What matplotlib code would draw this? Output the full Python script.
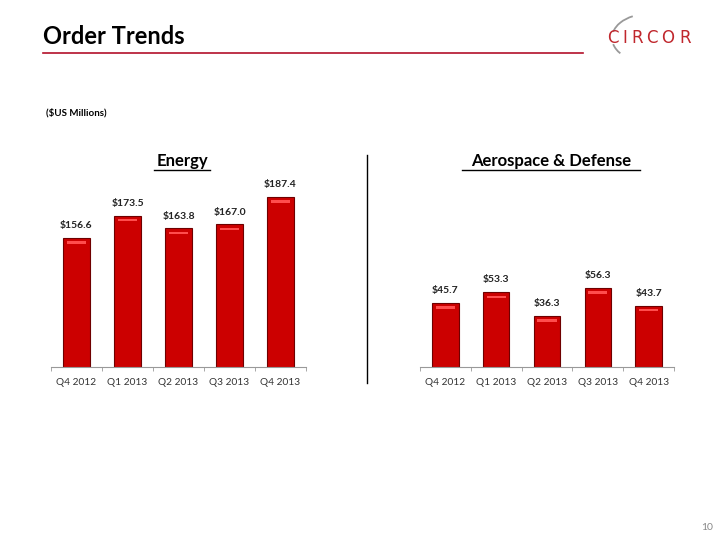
#!/usr/bin/env python3

import numpy as np
from matplotlib import pyplot as plt
from matplotlib.patches import Arc

# * Data

QUARTERS = ["Q4 2012", "Q1 2013", "Q2 2013", "Q3 2013", "Q4 2013"]
ENERGY = [156.6, 173.5, 163.8, 167.0, 187.4]
AERO = [45.7, 53.3, 36.3, 56.3, 43.7]

# * Style

plt.rcParams['font.family'] = ['Lato', 'DejaVu Sans']
BAR_RED = "#cc0000"
BAR_EDGE = "#6e0000"
LINE_RED = "#b3102a"

def draw_panel(ax, values, ylim):
    x = np.arange(len(values))
    ax.bar(x, values, width=0.52, color=BAR_RED, edgecolor=BAR_EDGE, lw=0.8, zorder=2)
    # light strip near the top of each bar (bevel look)
    span = ylim[1] - ylim[0]
    ax.bar(x, [span * 0.012] * len(values), bottom=[v - span * 0.03 for v in values],
           width=0.38, color="#ff4d4d", lw=0, zorder=3)
    for xi, v in zip(x, values):
        ax.annotate("${:.1f}".format(v), (xi, v), xytext=(0, 5.5), textcoords="offset points",
                    ha="center", va="bottom", fontsize=7.5, fontweight="bold", color="#222222")
    ax.set_xlim(-0.5, len(values) - 0.5)
    ax.set_ylim(*ylim)
    ax.set_xticks(x)
    ax.set_xticklabels(QUARTERS, fontsize=7.3, color="#333333")
    ax.set_xticks(np.arange(len(values) + 1) - 0.5, minor=True)
    ax.tick_params(axis="x", which="major", length=0, pad=8)
    ax.tick_params(axis="x", which="minor", length=3, color="#999999", direction="out")
    ax.set_yticks([])
    for s in ["top", "right", "left"]:
        ax.spines[s].set_visible(False)
    ax.spines["bottom"].set_color("#999999")
    ax.set_facecolor("none")

fig = plt.figure(figsize=(7.2, 5.4), dpi=100)

# Header
fig.text(43 / 720, 1 - 37 / 540, "Order Trends", fontsize=17, fontweight="bold",
         va="center", ha="left", color="black")
fig.add_artist(plt.Line2D([43 / 720, 583 / 720], [1 - 53 / 540] * 2, color=LINE_RED, lw=1.2))
fig.text(46 / 720, 1 - 113 / 540, "($US Millions)", fontsize=7, fontweight="bold",
         va="center", ha="left")

# Logo (pixel-space overlay)
LOGO_X = [612.5, 625, 637.5, 652, 668, 685]
for xc, ch in zip(LOGO_X, "CIRCOR"):
    fig.text(xc / 720, 1 - 37.7 / 540, ch, fontsize=12, color="#c0272d",
             ha="center", va="center", family=["DejaVu Sans"])
over = fig.add_axes([0, 0, 1, 1])
over.set_xlim(0, 720)
over.set_ylim(0, 540)
over.axis("off")
over.add_patch(Arc((648, 540 - 38), 72, 48, theta1=125, theta2=170, color="#999999", lw=1.3))
over.add_patch(Arc((648, 540 - 38), 72, 48, theta1=190, theta2=209, color="#999999", lw=1.3))

# Panels
ax1 = fig.add_axes([51 / 720, 1 - 366.7 / 540, 255 / 720, 186.4 / 540])
draw_panel(ax1, ENERGY, (60, 200))
ax2 = fig.add_axes([420 / 720, 1 - 366.7 / 540, 254 / 720, 196 / 540])
draw_panel(ax2, AERO, (0, 140))

for xc, t in [(182, "Energy"), (551, "Aerospace & Defense")]:
    fig.text(xc / 720, 1 - 161 / 540, t, fontsize=12, fontweight="bold",
             ha="center", va="center")
# underline of the titles
fig.add_artist(plt.Line2D([154 / 720, 210 / 720], [1 - 169.5 / 540] * 2, color="black", lw=1))
fig.add_artist(plt.Line2D([462 / 720, 640 / 720], [1 - 169.5 / 540] * 2, color="black", lw=1))

# Divider
fig.add_artist(plt.Line2D([367 / 720] * 2, [1 - 155 / 540, 1 - 383 / 540], color="black", lw=1))

# Page number
fig.text(707 / 720, 1 - 527 / 540, "10", fontsize=7.5, color="#888888", ha="center", va="center")

fig.savefig("out.png", dpi=100)
